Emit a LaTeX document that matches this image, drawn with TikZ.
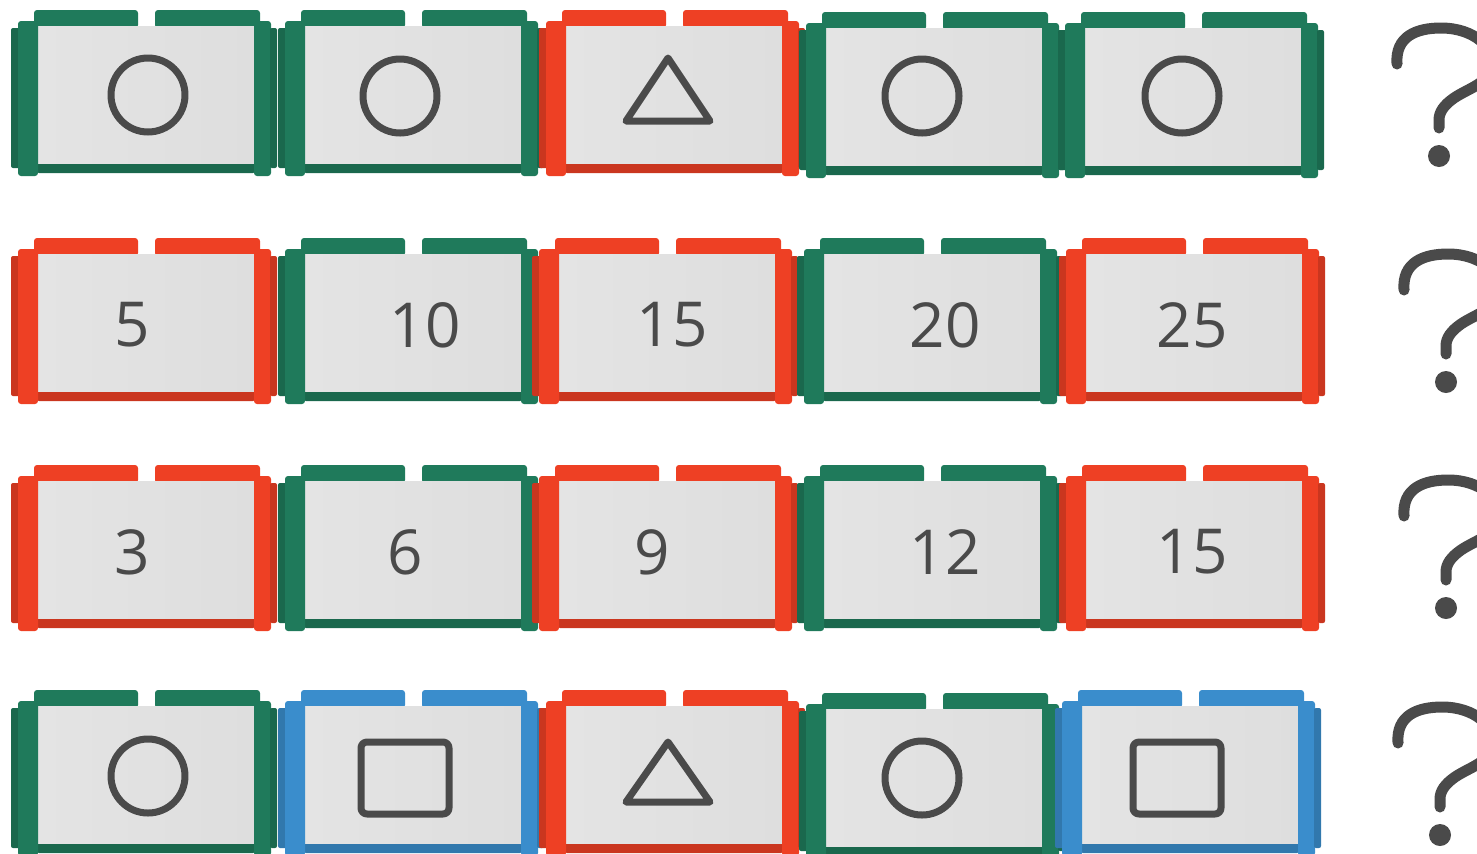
\documentclass[tikz,border=0pt]{standalone}
\usepackage{fontspec}
\setmainfont{Open Sans}
\usetikzlibrary{positioning}
\definecolor{grn}{HTML}{1F7A5B}
\definecolor{rd}{HTML}{EE4024}
\definecolor{bl}{HTML}{3A8DCC}
\definecolor{ink}{HTML}{4A4A4A}
\definecolor{paneL}{HTML}{E4E4E4}
\definecolor{paneM}{HTML}{EAEAEA}
\definecolor{paneR}{HTML}{DEDEDE}
\tikzset{
  part/.style={fill=#1, rounded corners=1.5pt},
  rim/.style={fill=#1!85!black, rounded corners=1pt},
  pane/.style={left color=paneL, middle color=paneM, right color=paneR},
  sym/.style={draw=ink, line width=3.5pt, line join=round, line cap=round},
  qline/.style={draw=ink, line width=5.5pt, line cap=round},
  num/.style={text=ink, font=\fontsize{31}{31}\selectfont, inner sep=0pt}
}
% one coloured frame, top left of the tabs at (#1,#2)
\newcommand{\cardframe}[3]{%
  \begin{scope}[shift={(#1,#2)}]
    \fill[part=#3] (23,0) rectangle (127,18);
    \fill[part=#3] (144,0) rectangle (249,18);
    \fill[rim=#3] (26,149) rectangle (244,163);
    \shade[pane] (26,16) rectangle (244,153);
    \fill[rim=#3] (0,18) rectangle (9,158);
    \fill[part=#3] (7,11) rectangle (27,166);
    \fill[part=#3] (243,11) rectangle (260,166);
    \fill[rim=#3] (259,18) rectangle (266,158);
  \end{scope}}
% question mark, dot centre at (#1,#2)
\newcommand{\qmark}[2]{%
  \begin{scope}[shift={(#1,#2)}]
    \draw[qline] (-42,-92) .. controls (-44,-120) and (-22,-128) .. (2,-128)
      .. controls (35,-128) and (57,-108) .. (52,-88)
      .. controls (48,-72) and (30,-68) .. (15,-58)
      .. controls (5,-51) and (0,-44) .. (0,-36) -- (0,-28);
    \fill[ink] (0,0) circle[radius=11];
  \end{scope}}

\begin{document}
\begin{tikzpicture}[x=0.5pt,y=-0.5pt]
  \useasboundingbox (0,0) rectangle (1477,853);
  \clip (0,0) rectangle (1477,853);
  % row 1
  \cardframe{11}{10}{grn}
  \cardframe{278}{10}{grn}
  \cardframe{539}{10}{rd}
  \cardframe{799}{12}{grn}
  \cardframe{1058}{12}{grn}
  \draw[sym] (148,95) circle[radius=37];
  \draw[sym] (400,96) circle[radius=37];
  \draw[sym] (668,58) -- (710,121) -- (626,121) -- cycle;
  \draw[sym] (922,96) circle[radius=37];
  \draw[sym] (1182,96) circle[radius=37];
  \qmark{1439}{156}
  % row 2
  \cardframe{11}{238}{rd}
  \cardframe{278}{238}{grn}
  \cardframe{532}{238}{rd}
  \cardframe{797}{238}{grn}
  \cardframe{1059}{238}{rd}
  \node[num] (n21) at (132,325) {5};
  \node[num] (n22) at (425,325) {10};
  \node[num] (n23) at (672,325) {15};
  \node[num] (n24) at (945,325) {20};
  \node[num] (n25) at (1192,325) {25};
  \qmark{1446}{382}
  % row 3
  \cardframe{11}{465}{rd}
  \cardframe{278}{465}{grn}
  \cardframe{532}{465}{rd}
  \cardframe{797}{465}{grn}
  \cardframe{1059}{465}{rd}
  \node[num] (n31) at (132,552) {3};
  \node[num] (n32) at (405,552) {6};
  \node[num] (n33) at (652,552) {9};
  \node[num] (n34) at (945,552) {12};
  \node[num] (n35) at (1192,552) {15};
  \qmark{1446}{608}
  % row 4
  \cardframe{11}{690}{grn}
  \cardframe{278}{690}{bl}
  \cardframe{539}{690}{rd}
  \cardframe{799}{693}{grn}
  \cardframe{1055}{690}{bl}
  \draw[sym] (148,776) circle[radius=37];
  \draw[sym, rounded corners=3pt] (361,742) rectangle (449,814);
  \draw[sym] (668,742) -- (710,802) -- (626,802) -- cycle;
  \draw[sym] (922,778) circle[radius=37];
  \draw[sym, rounded corners=3pt] (1133,742) rectangle (1221,814);
  \qmark{1440}{835}
\end{tikzpicture}
\end{document}
